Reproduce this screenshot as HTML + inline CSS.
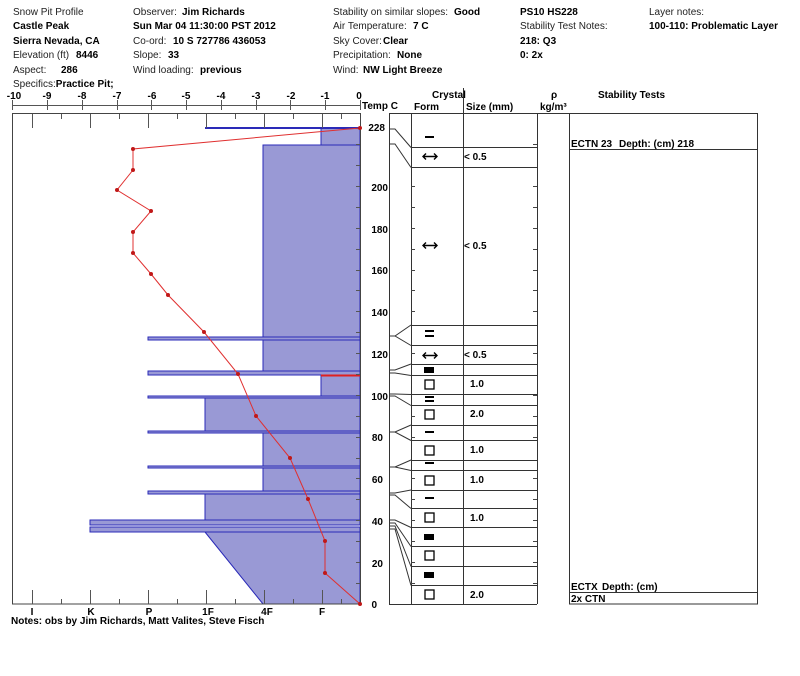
<!DOCTYPE html>
<html><head><meta charset="utf-8"><style>
body{margin:0;background:#fff;}
svg{display:block;font-family:"Liberation Sans",Arial,sans-serif;}
.n{font-size:10px;fill:#222;}
.b{font-size:10px;font-weight:bold;fill:#000;}
</style></head><body>
<svg width="800" height="676" viewBox="0 0 800 676" xmlns="http://www.w3.org/2000/svg">
<!-- header -->
<g class="n">
<text x="13" y="15">Snow Pit Profile</text>
<text x="13" y="29" class="b">Castle Peak</text>
<text x="13" y="44" class="b">Sierra Nevada, CA</text>
<text x="13" y="58">Elevation (ft)</text><text x="76" y="58" class="b">8446</text>
<text x="13" y="73">Aspect:</text><text x="61" y="73" class="b">286</text>
<text x="13" y="87">Specifics:<tspan class="b">Practice Pit;</tspan></text>
<text x="133" y="15">Observer:</text><text x="182" y="15" class="b">Jim Richards</text>
<text x="133" y="29" class="b">Sun Mar 04 11:30:00 PST 2012</text>
<text x="133" y="44">Co-ord:</text><text x="173" y="44" class="b">10 S 727786 436053</text>
<text x="133" y="58">Slope:</text><text x="168" y="58" class="b">33</text>
<text x="133" y="73">Wind loading:</text><text x="200" y="73" class="b">previous</text>
<text x="333" y="15">Stability on similar slopes:</text><text x="454" y="15" class="b">Good</text>
<text x="333" y="29">Air Temperature:</text><text x="413" y="29" class="b">7 C</text>
<text x="333" y="44">Sky Cover:</text><text x="383" y="44" class="b">Clear</text>
<text x="333" y="58">Precipitation:</text><text x="397" y="58" class="b">None</text>
<text x="333" y="73">Wind:</text><text x="363" y="73" class="b">NW Light Breeze</text>
<text x="520" y="15" class="b">PS10 HS228</text>
<text x="520" y="29">Stability Test Notes:</text>
<text x="520" y="44" class="b">218: Q3</text>
<text x="520" y="58" class="b">0:  2x</text>
<text x="649" y="15">Layer notes:</text>
<text x="649" y="29" class="b">100-110: Problematic Layer</text>
</g>
<!-- temp axis -->
<line x1="12" y1="105.5" x2="360" y2="105.5" stroke="#555"/>
<g class="b" text-anchor="middle">
<text x="14" y="99">-10</text><text x="47" y="99">-9</text><text x="82" y="99">-8</text><text x="117" y="99">-7</text><text x="152" y="99">-6</text><text x="186" y="99">-5</text><text x="221" y="99">-4</text><text x="256" y="99">-3</text><text x="291" y="99">-2</text><text x="325" y="99">-1</text><text x="359" y="99">0</text>
</g>
<path stroke="#555" d="M12.5 100v10M47.5 100v10M82.5 100v10M117.5 100v10M151.5 100v10M186.5 100v10M221.5 100v10M256.5 100v10M290.5 100v10M325.5 100v10M360.5 100v10"/>
<text x="362" y="109" class="b">Temp C</text>
<!-- bars -->
<g fill="#9999d5" stroke="#2a2ab8" stroke-width="1">
<rect x="321" y="128" width="39" height="17"/>
<rect x="263" y="145" width="97" height="192"/>
<rect x="263" y="337" width="97" height="34"/>
<rect x="321" y="375" width="39" height="22"/>
<rect x="205" y="398" width="155" height="34"/>
<rect x="263" y="432" width="97" height="35"/>
<rect x="263" y="467" width="97" height="25"/>
<rect x="205" y="493" width="155" height="27"/>
<polygon points="205,532 263,604 360,604 360,532"/>
<rect x="148" y="337" width="212" height="3"/>
<rect x="148" y="371" width="212" height="4"/>
<rect x="148" y="396" width="212" height="2"/>
<rect x="148" y="431" width="212" height="2"/>
<rect x="148" y="466" width="212" height="2"/>
<rect x="148" y="491" width="212" height="3"/>
<rect x="90" y="520" width="270" height="5"/>
<rect x="90" y="527" width="270" height="5"/>
</g>
<line x1="205" y1="128" x2="360" y2="128" stroke="#2a2ab8" stroke-width="2"/>
<line x1="321" y1="375.5" x2="360" y2="375.5" stroke="#e02020" stroke-width="2"/>
<rect x="12.5" y="113.5" width="348" height="490.5" fill="none" stroke="#444"/>
<g stroke="#555">
<path d="M32.5 114v14M90.5 114v14M148.5 114v14M206.5 114v14M264.5 114v14M322.5 114v14M61.5 114v5M119.5 114v5M177.5 114v5M235.5 114v5M293.5 114v5M341.5 114v5"/>
<path d="M32.5 604v-14M90.5 604v-14M148.5 604v-14M206.5 604v-14M264.5 604v-14M322.5 604v-14M61.5 604v-5M119.5 604v-5M177.5 604v-5M235.5 604v-5M293.5 604v-5M341.5 604v-5"/>
</g>
<g class="b" text-anchor="middle">
<text x="32" y="615">I</text><text x="91" y="615">K</text><text x="149" y="615">P</text><text x="208" y="615">1F</text><text x="267" y="615">4F</text><text x="322" y="615">F</text>
</g>
<text x="11" y="624" class="b">Notes:  obs by Jim Richards, Matt Valites, Steve Fisch</text>
<!-- temp profile -->
<polyline fill="none" stroke="#e03030" stroke-width="1" points="360,128 133,149 133,170 117,190 151,211 133,232 133,253 151,274 168,295 204,332 238,374 256,416 290,458 308,499 325,541 325,573 360,604"/>
<g fill="#c01818">
<circle cx="133" cy="149" r="2"/><circle cx="133" cy="170" r="2"/><circle cx="117" cy="190" r="2"/><circle cx="151" cy="211" r="2"/><circle cx="133" cy="232" r="2"/><circle cx="133" cy="253" r="2"/><circle cx="151" cy="274" r="2"/><circle cx="168" cy="295" r="2"/><circle cx="204" cy="332" r="2"/><circle cx="238" cy="374" r="2"/><circle cx="256" cy="416" r="2"/><circle cx="290" cy="458" r="2"/><circle cx="308" cy="499" r="2"/><circle cx="325" cy="541" r="2"/><circle cx="325" cy="573" r="2"/><circle cx="360" cy="604" r="2"/><circle cx="360" cy="128" r="2"/>
</g>
<path stroke="#555" d="M360 583.5h-4M360 562.5h-4M360 541.5h-4M360 520.5h-4M360 499.5h-4M360 478.5h-4M360 458.5h-4M360 437.5h-4M360 416.5h-4M360 395.5h-4M360 374.5h-4M360 353.5h-4M360 332.5h-4M360 311.5h-4M360 290.5h-4M360 270.5h-4M360 249.5h-4M360 228.5h-4M360 207.5h-4M360 186.5h-4M360 165.5h-4M360 144.5h-4"/>
<g class="b" text-anchor="end">
<text x="385" y="131">228</text><text x="388" y="191">200</text><text x="388" y="233">180</text><text x="388" y="274">160</text><text x="388" y="316">140</text><text x="388" y="358">120</text><text x="388" y="400">100</text><text x="383" y="441">80</text><text x="383" y="483">60</text><text x="383" y="525">40</text><text x="383" y="567">20</text><text x="377" y="608">0</text>
</g>
<!-- right panel -->
<g stroke="#333" fill="none">
<line x1="389.5" y1="113" x2="389.5" y2="604"/>
<line x1="389" y1="604.5" x2="537" y2="604.5"/>
<line x1="411.5" y1="113" x2="411.5" y2="604"/>
<line x1="463.5" y1="88" x2="463.5" y2="604"/>
<line x1="537.5" y1="113" x2="537.5" y2="604"/>
<rect x="569.5" y="113.5" width="188" height="490.5"/>
<line x1="389" y1="113.5" x2="569" y2="113.5"/>
<line x1="569" y1="149.5" x2="758" y2="149.5"/>
<line x1="569" y1="592.5" x2="758" y2="592.5"/>
<path d="M411 147.5h126M411 167.5h126M411 325.5h126M411 345.5h126M411 364.5h126M411 375.5h126M411 394.5h126M411 405.5h126M411 425.5h126M411 440.5h126M411 460.5h126M411 470.5h126M411 490.5h126M411 508.5h126M411 527.5h126M411 546.5h126M411 566.5h126M411 585.5h126"/>
<path d="M389 129h6l16 18.5M389 144h6l16 23.5M389 336h6l16 -11M389 336h6l16 9.5M389 370h6l16 -6M389 373h6l16 2.5M389 394h6l16 0.5M389 396h6l16 9.5M389 432h6l16 -7M389 432h6l16 8.5M389 467h6l16 -7M389 467h6l16 3.5M389 493h6l16 -3M389 495h6l16 13.5M389 520h6l16 7.5M389 523h6l16 23.5M389 526h6l16 40.5M389 529h6l16 56.5"/>
</g>
<g stroke="#444">
<path d="M411 186.5h4M411 207.5h4M411 228.5h4M411 249.5h4M411 270.5h4M411 290.5h4M411 311.5h4M411 353.5h4M411 416.5h4M411 437.5h4M411 478.5h4M411 499.5h4M411 520.5h4M411 541.5h4M411 562.5h4M411 583.5h4"/>
<path d="M537 144.5h-4M537 186.5h-4M537 207.5h-4M537 228.5h-4M537 249.5h-4M537 270.5h-4M537 290.5h-4M537 311.5h-4M537 353.5h-4M537 395.5h-4M537 416.5h-4M537 437.5h-4M537 478.5h-4M537 499.5h-4M537 520.5h-4M537 541.5h-4M537 562.5h-4M537 583.5h-4"/>
</g>
<g class="b">
<text x="432" y="98">Crystal</text>
<text x="414" y="110">Form</text>
<text x="466" y="110">Size (mm)</text>
<text x="551" y="98">ρ</text>
<text x="540" y="110">kg/m³</text>
<text x="598" y="98">Stability Tests</text>
<text x="571" y="147">ECTN 23</text><text x="619" y="147">Depth: (cm) 218</text>
<text x="571" y="590">ECTX</text><text x="602" y="590">Depth: (cm)</text>
<text x="571" y="602">2x CTN</text>
<text x="464" y="160">&lt; 0.5</text>
<text x="464" y="249">&lt; 0.5</text>
<text x="464" y="358">&lt; 0.5</text>
<text x="470" y="387">1.0</text>
<text x="470" y="417">2.0</text>
<text x="470" y="453">1.0</text>
<text x="470" y="483">1.0</text>
<text x="470" y="521">1.0</text>
<text x="470" y="598">2.0</text>
</g>
<g fill="#000" stroke="none">
<rect x="425" y="136" width="9" height="2"/>
<rect x="425" y="330" width="9" height="2"/><rect x="425" y="335" width="9" height="2"/>
<rect x="424" y="367" width="10" height="6"/>
<rect x="425" y="396" width="9" height="2"/><rect x="425" y="400" width="9" height="2"/>
<rect x="425" y="431" width="9" height="2"/>
<rect x="425" y="462" width="9" height="2"/>
<rect x="425" y="497" width="9" height="2"/>
<rect x="424" y="534" width="10" height="6"/>
<rect x="424" y="572" width="10" height="6"/>
</g>
<g fill="none" stroke="#000" stroke-width="1.4">
<path d="M423 156.5h14M426 153.5l-3 3 3 3M434 153.5l3 3-3 3"/>
<path d="M423 245.5h14M426 242.5l-3 3 3 3M434 242.5l3 3-3 3"/>
<path d="M423 355.5h14M426 352.5l-3 3 3 3M434 352.5l3 3-3 3"/>
</g>
<g fill="none" stroke="#000" stroke-width="1.3">
<rect x="425" y="380" width="9" height="9"/>
<rect x="425" y="410" width="9" height="9"/>
<rect x="425" y="446" width="9" height="9"/>
<rect x="425" y="476" width="9" height="9"/>
<rect x="425" y="513" width="9" height="9"/>
<rect x="425" y="551" width="9" height="9"/>
<rect x="425" y="590" width="9" height="9"/>
</g>
</svg>
</body></html>
